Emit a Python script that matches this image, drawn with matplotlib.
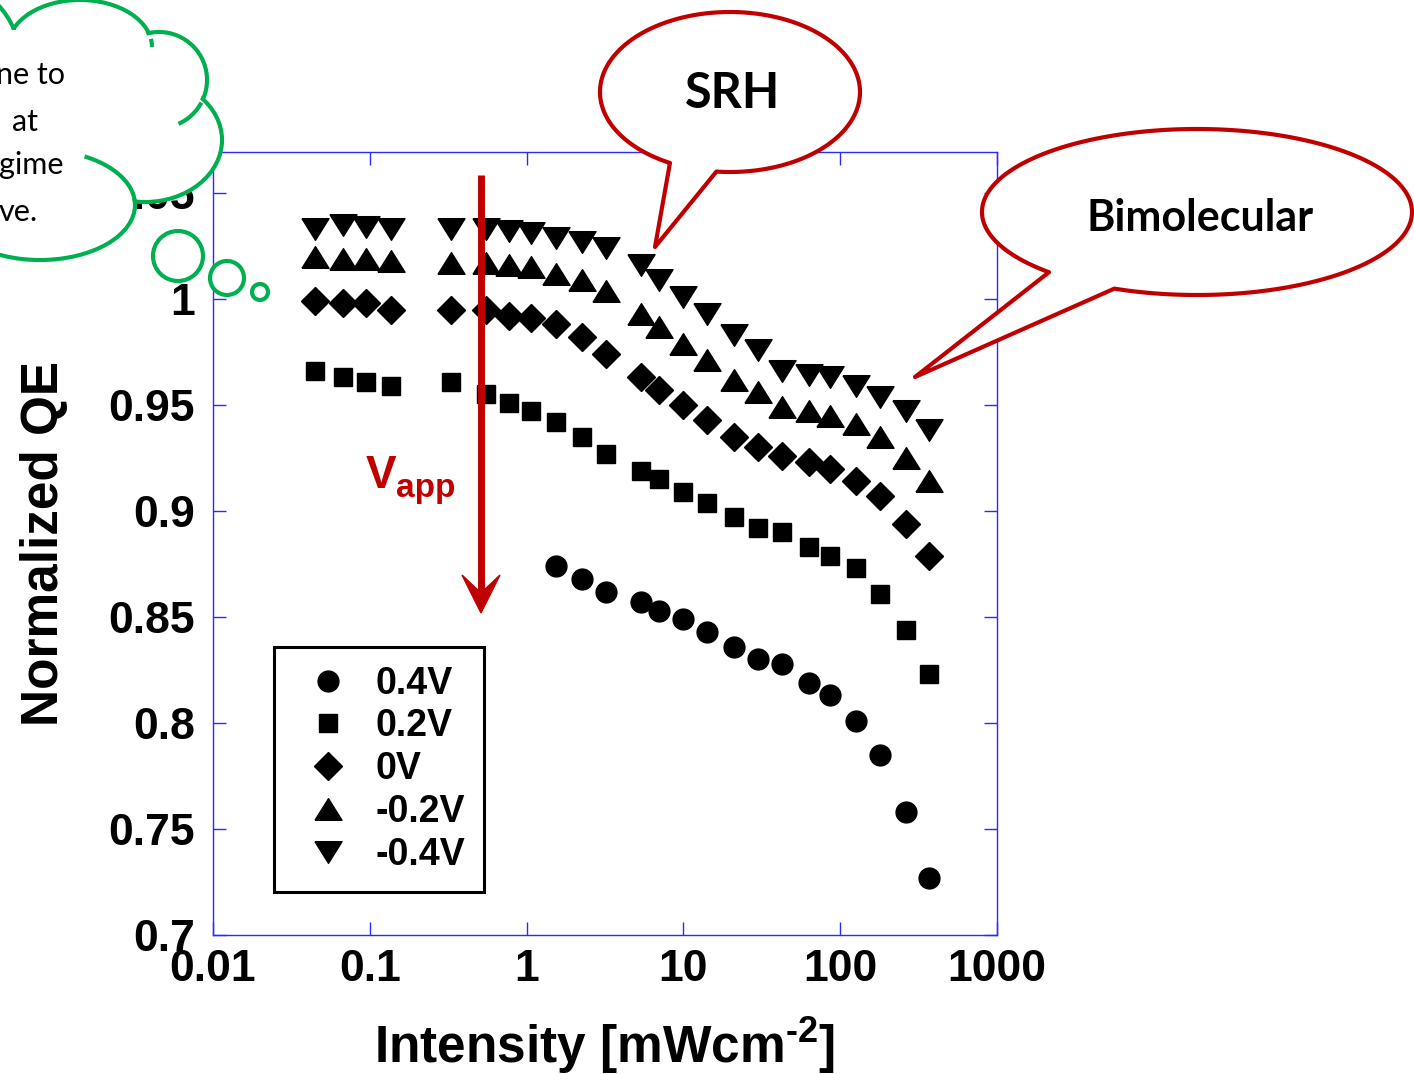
import numpy as np
import matplotlib
matplotlib.use('Agg')
import matplotlib.pyplot as plt
from matplotlib.patches import Ellipse, Polygon, Circle
from matplotlib.path import Path

plt.rcParams['font.family'] = ['Liberation Sans', 'DejaVu Sans']
plt.rcParams['font.weight'] = 'bold'
plt.rcParams['mathtext.fontset'] = 'custom'
plt.rcParams['mathtext.rm'] = 'Liberation Sans:bold'
plt.rcParams['mathtext.bf'] = 'Liberation Sans:bold'
plt.rcParams['mathtext.default'] = 'bf'

# 数据：光强 (mW/cm^2) 与归一化 QE
intensity = [0.045, 0.067, 0.095, 0.136, 0.33, 0.55, 0.77, 1.07, 1.54, 2.26, 3.2, 5.4,
             7.0, 9.9, 14.2, 21, 30, 42.6, 63, 86, 126, 179, 263, 368]
qe_m04 = [1.033, 1.035, 1.034, 1.033, 1.033, 1.033, 1.032, 1.031, 1.029, 1.027, 1.024, 1.016,
          1.009, 1.001, 0.993, 0.983, 0.976, 0.966, 0.964, 0.963, 0.959, 0.954, 0.947, 0.938]
qe_m02 = [1.020, 1.019, 1.019, 1.018, 1.017, 1.017, 1.016, 1.015, 1.012, 1.009, 1.004, 0.993,
          0.987, 0.979, 0.971, 0.962, 0.956, 0.949, 0.947, 0.945, 0.941, 0.935, 0.925, 0.914]
qe_0 = [0.999, 0.998, 0.998, 0.995, 0.995, 0.995, 0.992, 0.991, 0.988, 0.982, 0.974, 0.963,
        0.957, 0.950, 0.943, 0.935, 0.930, 0.926, 0.923, 0.920, 0.914, 0.907, 0.894, 0.879]
qe_02 = [0.966, 0.963, 0.961, 0.959, 0.961, 0.955, 0.951, 0.947, 0.942, 0.935, 0.927, 0.919,
         0.915, 0.909, 0.904, 0.897, 0.892, 0.890, 0.883, 0.879, 0.873, 0.861, 0.844, 0.823]
# 0.4V 只有高光强部分
intensity_04 = intensity[8:]
qe_04 = [0.874, 0.868, 0.862, 0.857, 0.853, 0.849, 0.843, 0.836, 0.830, 0.828, 0.819, 0.813,
         0.801, 0.785, 0.758, 0.727]

xticks = [0.01, 0.1, 1, 10, 100, 1000]
xticklabels = ['0.01', '0.1', '1', '10', '100', '1000']
yticks = [0.7, 0.75, 0.8, 0.85, 0.9, 0.95, 1.0, 1.05]
yticklabels = ['0.7', '0.75', '0.8', '0.85', '0.9', '0.95', '1', '1.05']

W, H = 1414, 1074
red = '#c00000'
green = '#00b050'
blue = '#2a2aff'

fig = plt.figure(figsize=(W / 100, H / 100), dpi=100)
ax = fig.add_axes([213 / W, 1 - 935 / H, 784 / W, 783 / H])

# 三角形标记（宽略大于高）
tri_up = Path([(-1, -0.8), (1, -0.8), (0, 0.8), (-1, -0.8)])
tri_dn = Path([(-1, 0.8), (1, 0.8), (0, -0.8), (-1, 0.8)])

ax.plot(intensity_04, qe_04, 'o', ms=15, color='k', label='0.4V')
ax.plot(intensity, qe_02, 's', ms=13.5, color='k', label='0.2V')
ax.plot(intensity, qe_0, 'D', ms=14, color='k', label='0V')
ax.plot(intensity, qe_m02, marker=tri_up, ls='none', ms=19.5, color='k', label='-0.2V')
ax.plot(intensity, qe_m04, marker=tri_dn, ls='none', ms=19.5, color='k', label='-0.4V')

ax.set_xscale('log')
ax.set_xlim(0.01, 1000)
ax.set_ylim(0.7, 0.7 + 783 / 2120)
ax.set_xticks(xticks, xticklabels)
ax.set_yticks(yticks, yticklabels)
ax.minorticks_off()
for s in ax.spines.values():
    s.set_color(blue)
    s.set_linewidth(1.0)
ax.tick_params(which='both', direction='in', top=True, right=True, length=9.5,
               width=1, color=blue, labelsize=32)
ax.tick_params(axis='y', pad=13)
ax.tick_params(axis='x', pad=10)

ax.set_xlabel(r'Intensity [mWcm$^{\text{-}2}$]', fontsize=37, fontweight='bold')
ax.set_ylabel('Normalized QE', fontsize=37, fontweight='bold')
ax.xaxis.set_label_coords(0.5, (935 - 1015) / 783)
ax.yaxis.set_label_coords((69 - 213) / 784, 0.5)

leg = ax.legend(loc='upper left', bbox_to_anchor=((274 - 213) / 784, (935 - 647) / 783),
                borderaxespad=0, fontsize=27, frameon=True, fancybox=False,
                edgecolor='k', framealpha=1, borderpad=0.5, handlelength=1.9,
                handletextpad=0.3, labelspacing=0.18, numpoints=1)
leg.get_frame().set_linewidth(2.2)

# 注释层（像素坐标）
ov = fig.add_axes([0, 0, 1, 1], zorder=10)
ov.set_xlim(0, W)
ov.set_ylim(H, 0)
ov.axis('off')
ov.patch.set_alpha(0)

# 左上角云形框
cloud = [(80, 47, 144, 94), (159, 80, 96, 96), (145, 140, 154, 124),
         (40, 205, 190, 110), (-60, 60, 160, 160)]
for cx, cy, w, h in cloud:
    ov.add_patch(Ellipse((cx, cy), w, h, fc='white', ec=green, lw=3, zorder=1))
for cx, cy, w, h in cloud:
    ov.add_patch(Ellipse((cx, cy), w - 5, h - 5, fc='white', ec='none', zorder=2))
core = [(-10, 30), (60, 30), (140, 50), (190, 100), (200, 140), (140, 190), (60, 230), (-10, 240)]
ov.add_patch(Polygon(core, closed=True, fc='white', ec='none', zorder=2))
for (cx, cy, w, h), (t1, t2) in zip([cloud[0], cloud[1], cloud[3]],
                                    [(-10, 0), (28, 66), (-62, 0)]):
    t = np.radians(np.linspace(t1, t2, 30))
    ov.plot(cx + w / 2 * np.cos(t), cy + h / 2 * np.sin(t), color=green, lw=3, zorder=3,
            solid_capstyle='butt')
for x, y, txt in [(65, 84, 'ne to'), (38, 131, 'at'), (64, 174, 'gime'), (38, 221, 've.')]:
    ov.text(x, y, txt, fontsize=22, family='Lato', fontweight='normal', ha='right',
            va='baseline', zorder=4)
for cx, cy, r in [(178, 256, 25), (227, 278, 17), (260, 292, 8)]:
    ov.add_patch(Circle((cx, cy), r, fc='white', ec=green, lw=3, zorder=1))


def bubble(cx, cy, a, b, t1, t2, tip):
    t = np.radians(np.linspace(t1, t2 + 360, 300))
    pts = np.column_stack([cx + a * np.cos(t), cy + b * np.sin(t)])
    pts = np.vstack([pts, tip])
    ov.add_patch(Polygon(pts, closed=True, fc='white', ec=red, lw=3, joinstyle='round', zorder=5))


bubble(730, 92, 130, 80, 117.5, 96, (655, 247))
ov.text(733, 94, 'SRH', fontsize=35, family='Lato', fontweight='bold', ha='center',
        va='center', zorder=6)
bubble(1197, 212, 215, 83, 133.5, 112.6, (915, 377))
ov.text(1200, 218, 'Bimolecular', fontsize=31, family='Lato', fontweight='bold',
        ha='center', va='center', zorder=6)

# Vapp 箭头
ov.plot([481, 481], [175, 596], color=red, lw=5, solid_capstyle='butt', zorder=6)
ov.add_patch(Polygon([(481, 613), (462, 575), (481, 593), (500, 575)], closed=True,
                     fc=red, ec=red, lw=1, zorder=6))
ov.text(366, 488, 'V', color=red, fontsize=33, fontweight='bold', ha='left', va='baseline')
ov.text(396, 497, 'app', color=red, fontsize=24, fontweight='bold', ha='left', va='baseline')

fig.savefig('out.png', dpi=100)
